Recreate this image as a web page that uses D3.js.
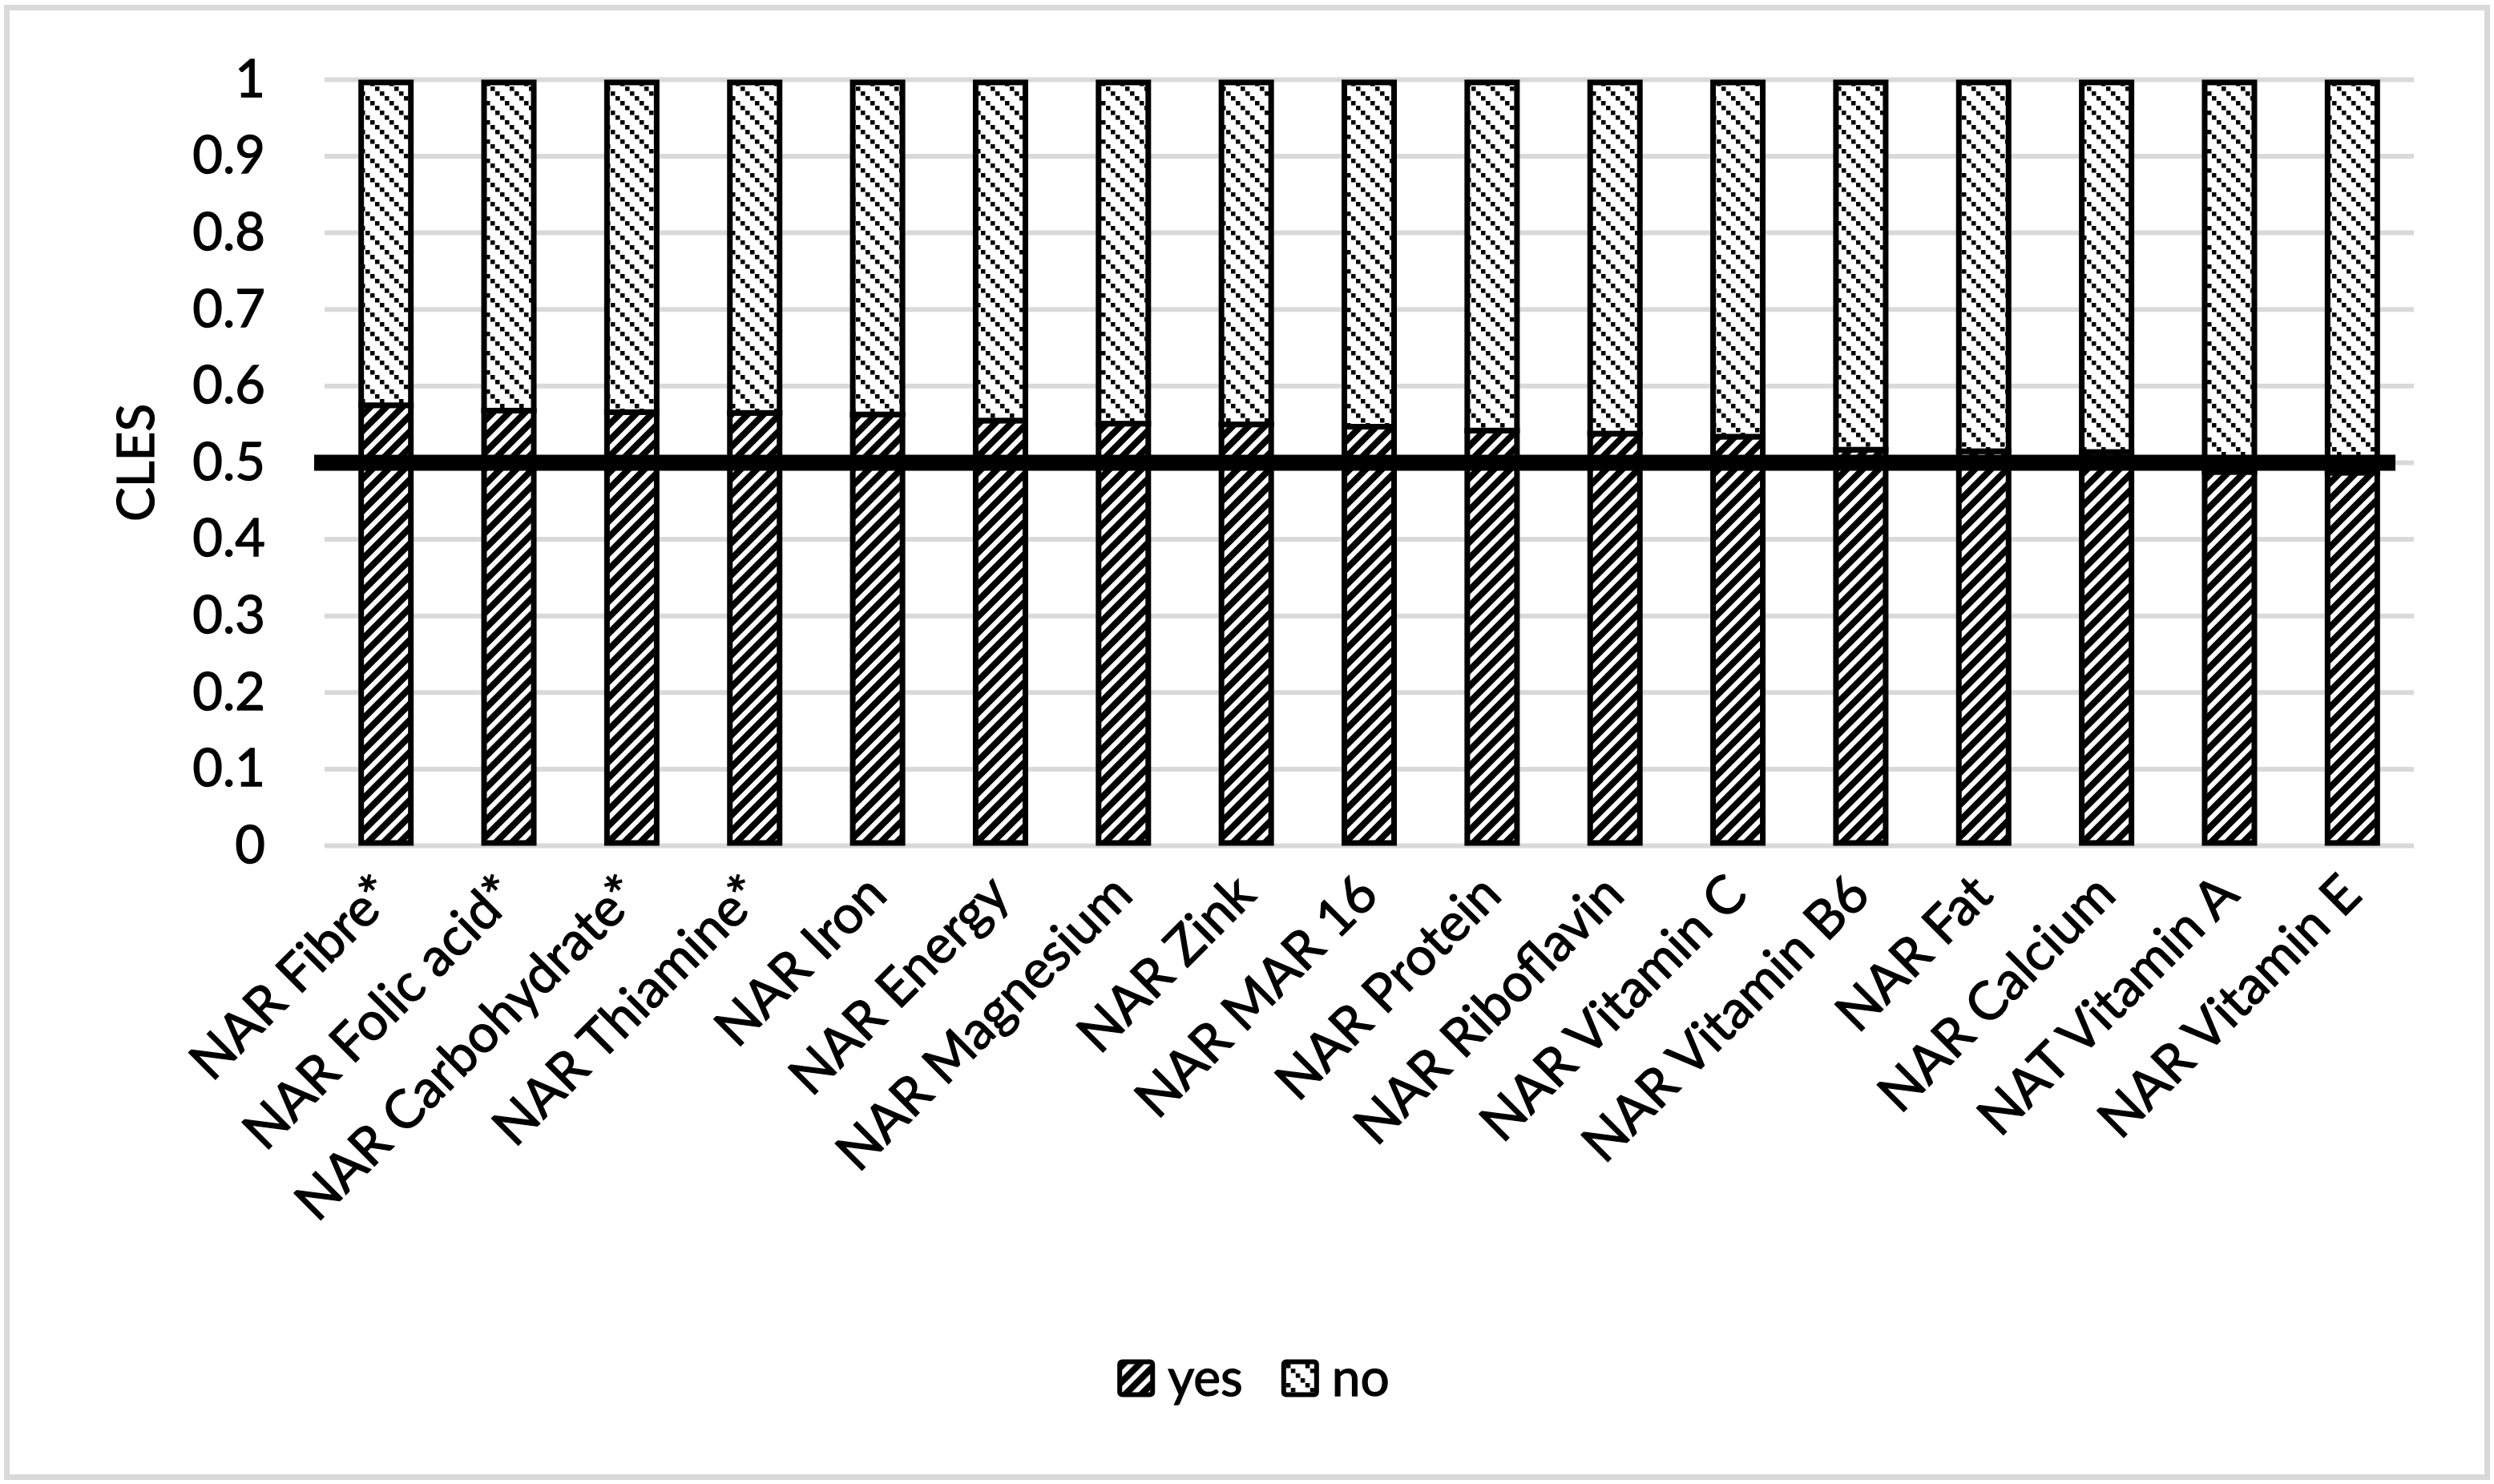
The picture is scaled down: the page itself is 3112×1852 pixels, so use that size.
<!DOCTYPE html>
<html>
<head>
<meta charset="utf-8">
<script src="https://cdn.jsdelivr.net/npm/d3@7"></script>
<style>
  html, body { margin: 0; padding: 0; background: #ffffff; }
  svg { display: block; }
  text { font-family: Lato, "Open Sans", sans-serif; fill: #000000; stroke: #000000; stroke-width: 1.3px; }
</style>
</head>
<body>
<svg id="chart" width="3112" height="1852"></svg>
<script>
// ---- data ----
const categories = [
  "NAR Fibre*", "NAR Folic acid*", "NAR Carbohydrate*", "NAR Thiamine*",
  "NAR Iron", "NAR Energy", "NAR Magnesium", "NAR Zink", "NAR MAR 16",
  "NAR Protein", "NAR Riboflavin", "NAR Vitamin C", "NAR Vitamin B6",
  "NAR Fat", "NAR Calcium", "NAT Vitamin A", "NAR Vitamin E"
];
const yesValues = [0.575, 0.568, 0.566, 0.565, 0.563, 0.555, 0.551, 0.550, 0.547,
                   0.542, 0.538, 0.534, 0.517, 0.515, 0.514, 0.488, 0.487];
const noValues  = [0.425, 0.432, 0.434, 0.435, 0.437, 0.445, 0.449, 0.450, 0.453,
                   0.458, 0.462, 0.466, 0.483, 0.485, 0.486, 0.512, 0.513];
const seriesNames = ["yes", "no"];
const yTicks = [0, 0.1, 0.2, 0.3, 0.4, 0.5, 0.6, 0.7, 0.8, 0.9, 1];
const refLine = [0.5];
const yTitle = "CLES";

// ---- layout ----
const W = 3112, H = 1852;
const plot = { left: 405, right: 3012, top: 99.4, bottom: 1055.5 };
const svg = d3.select("#chart");

const x = d3.scaleBand().domain(categories)
  .range([plot.left, plot.right]).paddingInner(0.55).paddingOuter(0.275);
const y = d3.scaleLinear().domain([0, 1]).range([plot.bottom, plot.top]);

// patterns
const defs = svg.append("defs");
// yes: dark with white upward diagonal stripes
const pYes = defs.append("pattern").attr("id", "pYes")
  .attr("patternUnits", "userSpaceOnUse").attr("width", 20).attr("height", 20);
pYes.append("rect").attr("width", 20).attr("height", 20).attr("fill", "#000");
pYes.append("path")
  .attr("d", "M-5,5 L5,-5 M-5,25 L25,-5 M15,25 L25,15")
  .attr("stroke", "#fff").attr("stroke-width", 6).attr("stroke-linecap", "square");
// no: white with dotted downward diagonals
const pNo = defs.append("pattern").attr("id", "pNo")
  .attr("patternUnits", "userSpaceOnUse").attr("width", 24).attr("height", 24);
pNo.append("rect").attr("width", 24).attr("height", 24).attr("fill", "#fff");
[0, 6, 12, 18].forEach(k => {
  pNo.append("rect").attr("x", k).attr("y", k).attr("width", 5.5).attr("height", 5.5).attr("fill", "#000");
});
const fills = { yes: "url(#pYes)", no: "url(#pNo)" };

// chart border
svg.append("rect").attr("x", 8.5).attr("y", 9.5).attr("width", W - 17).attr("height", H - 18)
  .attr("fill", "none").attr("stroke", "#d9d9d9").attr("stroke-width", 7);

// gridlines
svg.append("g").selectAll("line").data(yTicks).join("line")
  .attr("x1", plot.left).attr("x2", plot.right)
  .attr("y1", d => y(d)).attr("y2", d => y(d))
  .attr("stroke", "#d9d9d9").attr("stroke-width", 6);

// y axis labels
const yAxis = d3.axisLeft(y).tickValues(yTicks).tickFormat(d3.format("~g")).tickSize(0).tickPadding(0);
const gy = svg.append("g").attr("transform", `translate(${331},0)`).call(yAxis);
gy.select(".domain").remove();
gy.selectAll("text").attr("font-size", 65).attr("font-family", "Lato").attr("fill", "#000");

// bars
const table = categories.map((c, i) => ({ cat: c, yes: yesValues[i], no: noValues[i] }));
const stack = d3.stack().keys(seriesNames)(table);
const sw = 7;
svg.append("g").selectAll("g").data(stack).join("g")
  .attr("fill", d => fills[d.key])
  .selectAll("rect").data(d => d.map(v => ({ key: d.key, v })))
  .join("rect")
  .attr("x", d => x(d.v.data.cat) + sw / 2)
  .attr("width", x.bandwidth() - sw)
  .attr("y", d => d.key === "no" ? y(d.v[1]) + sw / 2 : y(d.v[1]))
  .attr("height", d => {
    const top = d.key === "no" ? y(d.v[1]) + sw / 2 : y(d.v[1]);
    const bot = d.key === "yes" ? y(d.v[0]) - sw / 2 : y(d.v[0]);
    return bot - top;
  })
  .attr("stroke", "#000").attr("stroke-width", sw);

// reference line at 0.5
svg.append("g").selectAll("line").data(refLine).join("line")
  .attr("x1", plot.left - 13).attr("x2", plot.right - 23)
  .attr("y1", d => y(d)).attr("y2", d => y(d))
  .attr("stroke", "#000").attr("stroke-width", 20);

// category labels
svg.append("g").selectAll("text").data(categories).join("text")
  .attr("transform", d => `translate(${x(d) + x.bandwidth() / 2 - 2},${plot.bottom + 48}) rotate(-45)`)
  .attr("text-anchor", "end").attr("dy", "0.35em")
  .attr("font-size", 66)
  .text(d => d);

// y title
svg.append("text")
  .attr("transform", `translate(170,${(plot.top + plot.bottom) / 2}) rotate(-90)`)
  .attr("text-anchor", "middle").attr("dy", "0.35em")
  .attr("font-size", 64).text(yTitle);

// legend
const legend = svg.append("g");
const boxSize = 47, gapBoxText = 16, gapItems = 48;
let cx = 0;
seriesNames.forEach(name => {
  const g = legend.append("g").attr("transform", `translate(${cx},0)`);
  g.append("rect").attr("x", 3).attr("y", -boxSize / 2 + 3)
    .attr("width", boxSize - 6).attr("height", boxSize - 6).attr("rx", 3)
    .attr("fill", fills[name]).attr("stroke", "#000").attr("stroke-width", 6);
  const t = g.append("text").attr("x", boxSize + gapBoxText).attr("dy", "0.35em")
    .attr("font-size", 64).text(name);
  cx += boxSize + gapBoxText + t.node().getComputedTextLength() + gapItems;
});
const legendW = cx - gapItems;
legend.attr("transform", `translate(${1564 - legendW / 2},1720)`);
</script>
</body>
</html>
